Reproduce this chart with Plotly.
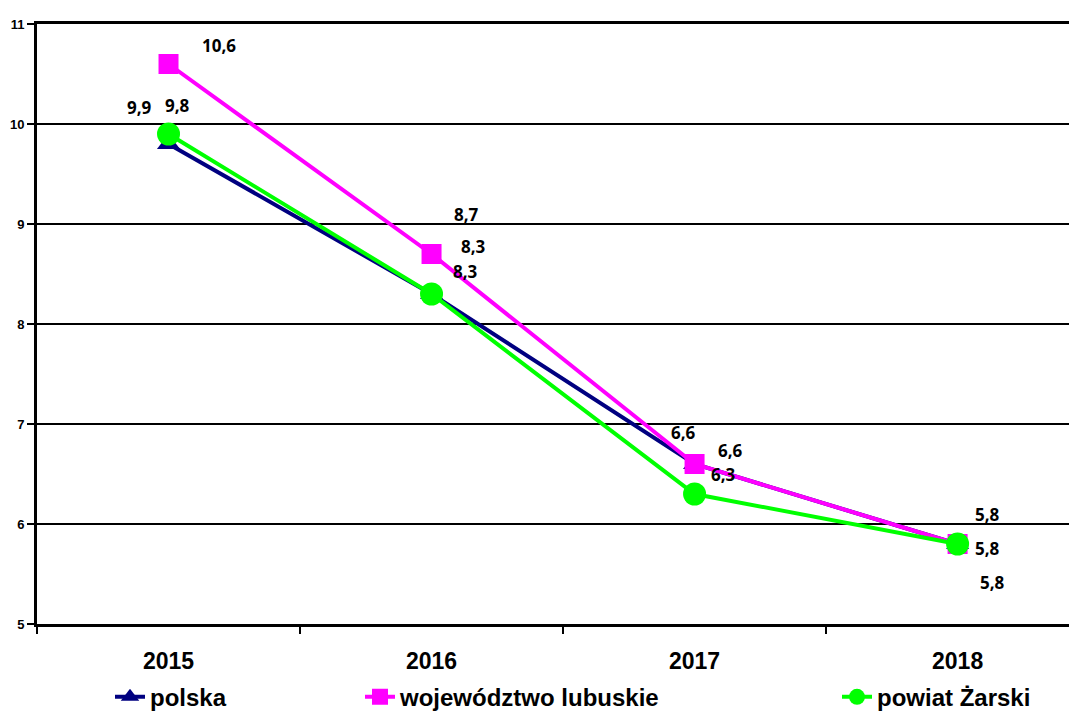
import plotly.graph_objects as go

years = ["2015", "2016", "2017", "2018"]
polska = [9.8, 8.3, 6.6, 5.8]
lubuskie = [10.6, 8.7, 6.6, 5.8]
zarski = [9.9, 8.3, 6.3, 5.8]

names = ["polska", "województwo lubuskie", "powiat Żarski"]
colors = ["#000080", "#FF00FF", "#00FF00"]
symbols = ["triangle-up", "square", "circle"]
msizes = [20, 20, 23]
series = [polska, lubuskie, zarski]

# label pixel offsets (xshift, yshift) per series per year
label_shifts = [
    [(9, 39), (42, 48), (-11, 32), (30, 30)],    # polska
    [(50, 19), (35, 40), (36, 14), (30, -4)],    # lubuskie
    [(-29, 27), (34, 23), (29, 20), (35, -38)],  # zarski
]

fig = go.Figure()
legend_ids = ["legend", "legend2", "legend3"]
for i in range(3):
    fig.add_trace(go.Scatter(
        x=years, y=series[i], name=names[i], mode="lines+markers",
        line=dict(color=colors[i], width=4),
        marker=dict(symbol=symbols[i], size=msizes[i], color=colors[i]),
        legend=legend_ids[i],
    ))

annotations = []
for i in range(3):
    for j, yr in enumerate(years):
        dx, dy = label_shifts[i][j]
        annotations.append(dict(
            x=j, y=series[i][j], xref="x", yref="y",
            text="<b>" + f"{series[i][j]:.1f}".replace(".", ",") + "</b>",
            showarrow=False, xshift=dx, yshift=dy,
            font=dict(family="Open Sans", size=17, color="black"),
        ))

legend_style = dict(
    orientation="h", yanchor="middle", xanchor="left",
    font=dict(family="Liberation Sans", size=24, color="black", weight="bold"),
    bgcolor="rgba(0,0,0,0)", itemwidth=30,
)
# page body has an 8px margin; figure is sized/offset to compensate
OFF = 8
W = 1040.0
fig.update_layout(
    width=1077 - OFF, height=711 - OFF,
    margin=dict(l=37 - OFF, r=0, t=24 - OFF, b=87, autoexpand=False),
    paper_bgcolor="white", plot_bgcolor="white",
    showlegend=True,
    legend=dict(legend_style, x=(110 - 37) / W, y=-0.122),
    legend2=dict(legend_style, x=(360 - 37) / W, y=-0.122),
    legend3=dict(legend_style, x=(837 - 37) / W, y=-0.122),
    annotations=annotations,
    xaxis=dict(
        type="category", range=[-0.5, 3.454], tickson="boundaries",
        ticks="outside", ticklen=7, tickwidth=2, tickcolor="black",
        showline=True, linecolor="black", linewidth=3, mirror=True,
        showgrid=False, automargin=False,
        tickfont=dict(family="Liberation Sans", size=23, color="black", weight="bold"),
        ticklabelstandoff=14,
    ),
    yaxis=dict(
        range=[5, 11], dtick=1, tick0=5,
        ticks="outside", ticklen=7, tickwidth=2, tickcolor="black",
        showline=True, linecolor="black", linewidth=3,
        showgrid=True, gridcolor="black", gridwidth=2,
        zeroline=False, automargin=False,
        tickfont=dict(family="Liberation Sans", size=13, color="black", weight="bold"),
    ),
)

fig.write_html("out.html")
